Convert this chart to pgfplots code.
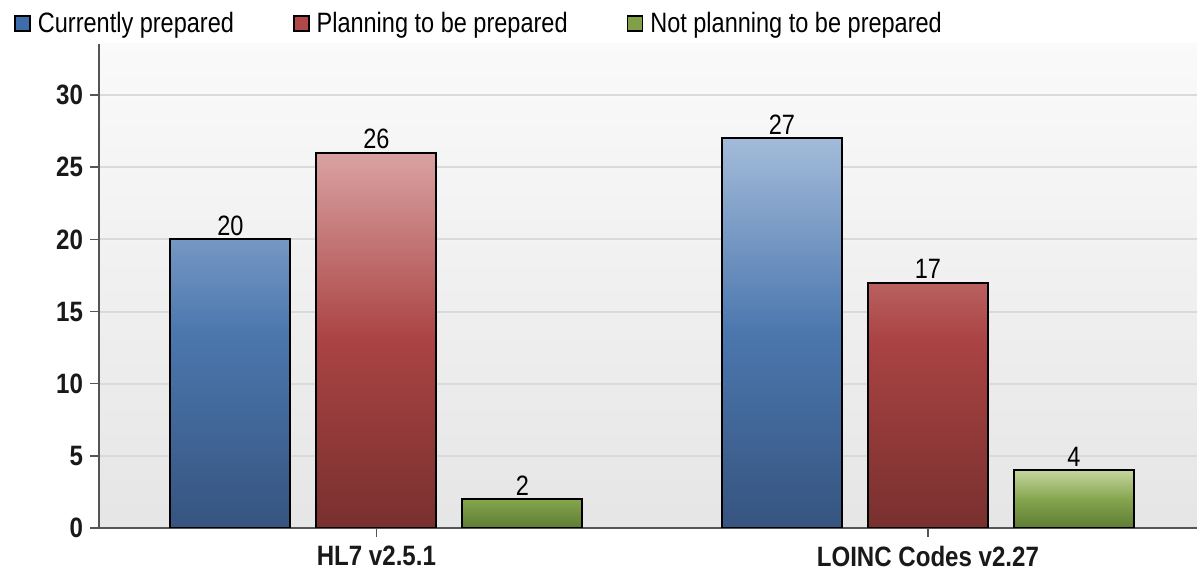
\documentclass[border=0pt]{standalone}
\usepackage{fontspec}
\setmainfont[FakeStretch=0.84, BoldFeatures={FakeStretch=0.86}]{Liberation Sans}
\usepackage{pgfplots}
\pgfplotsset{compat=1.18}
\definecolor{bluetop}{HTML}{A3BBD9}
\definecolor{bluemid}{HTML}{4B77AE}
\definecolor{bluebot}{HTML}{36547F}
\definecolor{redtop}{HTML}{DAA2A2}
\definecolor{redmid}{HTML}{AA4343}
\definecolor{redbot}{HTML}{78302F}
\definecolor{greentop}{HTML}{C4D59F}
\definecolor{greenmid}{HTML}{86A54E}
\definecolor{greenbot}{HTML}{5E7C33}
\definecolor{legblue}{HTML}{3E6EAA}
\definecolor{legred}{HTML}{B04848}
\definecolor{leggreen}{HTML}{7FA046}
\definecolor{axisgray}{HTML}{555555}
\definecolor{gridgray}{HTML}{DADADA}
\newcommand{\legsq}[1]{%
  \pgfsetlinewidth{0.8pt}\pgfsetstrokecolor{black}\pgfsetfillcolor{#1}%
  \pgfpathrectangle{\pgfpoint{0pt}{-3.75pt}}{\pgfpoint{7.5pt}{7.5pt}}%
  \pgfusepath{fill,stroke}}
\begin{document}
\begin{tikzpicture}[font=\fontsize{14pt}{16pt}\selectfont]
\path[use as bounding box] (0,0) rectangle (598.5pt,288pt);
\begin{axis}[
  at={(49.5pt,24pt)}, anchor=south west,
  scale only axis, width=549pt, height=242pt,
  xmin=-0.503, xmax=1.488, ymin=0, ymax=33.54,
  axis x line*=bottom, axis y line*=left,
  axis line style={draw=axisgray, line width=1pt, -},
  ytick={0,5,10,15,20,25,30},
  xtick={0,1}, xticklabels={HL7 v2.5.1, LOINC Codes v2.27},
  tick align=outside, major tick length=4.5pt,
  tick style={draw=axisgray, line width=0.8pt},
  ymajorgrids, grid style={draw=gridgray, line width=1pt},
  axis background/.style={top color=white!98!black, bottom color=black!10},
  /pgf/number format/assume math mode=true,
  tick label style={font=\fontsize{14pt}{16pt}\selectfont\bfseries, text=black!90},
  xticklabel style={yshift=-1pt},
  ybar, bar width=0.2176,
  nodes near coords,
  nodes near coords style={font=\fontsize{14pt}{16pt}\selectfont, text=black, inner sep=1.5pt},
  legend columns=3,
  legend style={draw=none, fill=none, at={(-0.0775,1.075)}, anchor=north west,
    inner sep=0pt, legend cell align=left,
    font=\fontsize{14pt}{16pt}\selectfont,
    /tikz/every odd column/.append style={column sep=1.5pt},
    /tikz/every even column/.append style={column sep=27.5pt}},
]
\addplot[bar shift=-0.2647, draw=black, line width=1pt,
  top color=bluetop, bottom color=bluebot, middle color=bluemid,
  legend image code/.code={\legsq{legblue}}]
  coordinates {(0,20) (1,27)};
\addlegendentry{Currently prepared}
\addplot[bar shift=0, draw=black, line width=1pt,
  top color=redtop, bottom color=redbot, middle color=redmid,
  legend image code/.code={\legsq{legred}}]
  coordinates {(0,26) (1,17)};
\addlegendentry{Planning to be prepared}
\addplot[bar shift=0.2647, draw=black, line width=1pt,
  top color=greentop, bottom color=greenbot, middle color=greenmid,
  legend image code/.code={\legsq{leggreen}}]
  coordinates {(0,2) (1,4)};
\addlegendentry{Not planning to be prepared}
\end{axis}
\end{tikzpicture}
\end{document}
